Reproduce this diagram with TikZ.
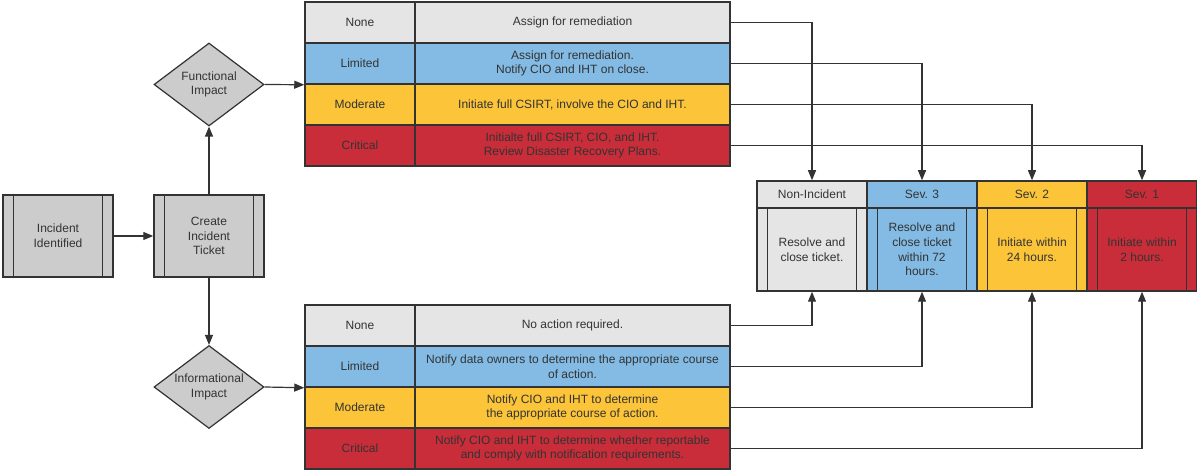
\documentclass[tikz,border=0pt]{standalone}
\usepackage{fontspec}
\setmainfont{Liberation Sans}
\usetikzlibrary{shapes.geometric,arrows.meta}
\definecolor{cnone}{HTML}{E5E5E5}
\definecolor{cblue}{HTML}{83BBE5}
\definecolor{cyel}{HTML}{FCC438}
\definecolor{cred}{HTML}{C92D39}
\definecolor{cbox}{HTML}{CCCCCC}
\definecolor{cline}{HTML}{333333}
\begin{document}
\begin{tikzpicture}[x=1pt,y=-1pt,
  every node/.style={font=\fontsize{12}{14.7}\selectfont, text=cline},
  cell/.style={draw=cline, line width=1.5pt, minimum height=41pt, inner sep=0pt, align=center},
  lcell/.style={cell, minimum width=110pt},
  rcell/.style={cell, minimum width=315pt},
  procbox/.style={draw=cline, line width=1.5pt, fill=cbox, minimum width=110pt, minimum height=82pt, align=center, inner sep=0pt},
  dia/.style={diamond, draw=cline, line width=1.2pt, fill=cbox, minimum width=110pt, minimum height=83pt, inner sep=0pt},
  arr/.style={draw=cline, line width=1.2pt, -{Triangle[length=10pt,width=8pt]}},
  hcell/.style={draw=cline, line width=1.5pt, minimum width=110pt, minimum height=27pt, inner sep=0pt},
  bcell/.style={draw=cline, line width=1.5pt, minimum width=110pt, minimum height=83pt, inner sep=0pt, align=center},
  inner/.style={draw=cline, line width=1.3pt},
]
\useasboundingbox (0,0) rectangle (1197,470);

% process boxes
\node[procbox] (iid) at (58,236) {Incident\\Identified};
\node[procbox] (cit) at (209,236) {Create\\Incident\\Ticket};
\foreach \b in {iid,cit}{
  \draw[inner] ([xshift=11pt]\b.north west) -- ([xshift=11pt]\b.south west);
  \draw[inner] ([xshift=-11pt]\b.north east) -- ([xshift=-11pt]\b.south east);
}

% diamonds
\node[dia] (fdia) at (209,84.5) {};
\node[align=center] (fdt) at (fdia) {Functional\\Impact};
\node[dia] (idia) at (209,387) {};
\node[align=center] (idt) at (idia) {Informational\\Impact};

% functional table
\node[lcell, fill=cnone] (fnl) at (360,22.5) {None};
\node[rcell, fill=cnone] (fnr) at (572.5,22.5) {Assign for remediation};
\node[lcell, fill=cblue] (fll) at (360,63.5) {Limited};
\node[rcell, fill=cblue] (flr) at (572.5,63.5) {Assign for remediation.\\Notify CIO and IHT on close.};
\node[lcell, fill=cyel] (fml) at (360,104.5) {Moderate};
\node[rcell, fill=cyel] (fmr) at (572.5,104.5) {Initiate full CSIRT, involve the CIO and IHT.};
\node[lcell, fill=cred] (fcl) at (360,145.5) {Critical};
\node[rcell, fill=cred] (fcr) at (572.5,145.5) {Initialte full CSIRT, CIO, and IHT.\\Review Disaster Recovery Plans.};

% informational table
\node[lcell, fill=cnone] (inl) at (360,325.5) {None};
\node[rcell, fill=cnone] (inr) at (572.5,325.5) {No action required.};
\node[lcell, fill=cblue] (ill) at (360,366.5) {Limited};
\node[rcell, fill=cblue] (ilr) at (572.5,366.5) {Notify data owners to determine the appropriate course\\of action.};
\node[lcell, fill=cyel] (iml) at (360,407.5) {Moderate};
\node[rcell, fill=cyel] (imr) at (572.5,407.5) {Notify CIO and IHT to determine\\the appropriate course of action.};
\node[lcell, fill=cred] (icl) at (360,448.5) {Critical};
\node[rcell, fill=cred] (icr) at (572.5,448.5) {Notify CIO and IHT to determine whether reportable\\and comply with notification requirements.};

% severity table
\node[hcell, fill=cnone] (h0) at (812,194.5) {Non-Incident};
\node[hcell, fill=cblue] (h3) at (922,194.5) {Sev. 3};
\node[hcell, fill=cyel] (h2) at (1032,194.5) {Sev. 2};
\node[hcell, fill=cred] (h1) at (1142,194.5) {Sev. 1};
\node[bcell, fill=cnone] (b0) at (812,249.5) {Resolve and\\close ticket.};
\node[bcell, fill=cblue] (b3) at (922,249.5) {Resolve and\\close ticket\\within 72\\hours.};
\node[bcell, fill=cyel] (b2) at (1032,249.5) {Initiate within\\24 hours.};
\node[bcell, fill=cred] (b1) at (1142,249.5) {Initiate within\\2 hours.};
\foreach \b in {b0,b3,b2,b1}{
  \draw[inner] ([xshift=11pt]\b.north west) -- ([xshift=11pt]\b.south west);
  \draw[inner] ([xshift=-11pt]\b.north east) -- ([xshift=-11pt]\b.south east);
}

% connectors
\draw[arr] (iid.east) -- (cit.west);
\draw[arr] (cit.north) -- (fdia.south);
\draw[arr] (cit.south) -- (idia.north);
\draw[arr] (fdia.east) -- (fll.south west);
\draw[arr] (idia.east) -- (ill.south west);

\draw[arr] (fnr.east) -| (h0.north);
\draw[arr] (flr.east) -| (h3.north);
\draw[arr] (fmr.east) -| (h2.north);
\draw[arr] (fcr.east) -| (h1.north);

\draw[arr] (inr.east) -| (b0.south);
\draw[arr] (ilr.east) -| (b3.south);
\draw[arr] (imr.east) -| (b2.south);
\draw[arr] (icr.east) -| (b1.south);
\end{tikzpicture}
\end{document}
